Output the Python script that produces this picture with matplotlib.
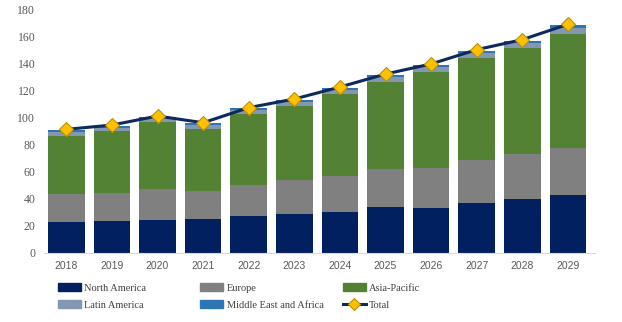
import numpy as np
import matplotlib.pyplot as plt
from matplotlib.patches import Patch
from matplotlib.lines import Line2D

years = ['2018', '2019', '2020', '2021', '2022', '2023', '2024', '2025', '2026', '2027', '2028', '2029']
north_america = [23.0, 23.7, 24.5, 25.2, 27.4, 28.9, 30.4, 34.1, 33.4, 37.1, 40.1, 43.0]
europe = [20.8, 20.8, 23.0, 20.8, 23.0, 25.0, 26.7, 28.2, 29.7, 31.9, 33.3, 34.9]
asia_pacific = [43.0, 45.8, 49.7, 46.0, 52.7, 55.1, 60.9, 64.6, 71.2, 75.7, 78.6, 84.6]
latin_america = [3.0, 2.4, 2.4, 3.0, 2.7, 3.0, 2.7, 3.1, 3.4, 3.4, 3.5, 4.2]
mea = [1.2, 1.3, 1.4, 1.2, 1.5, 1.2, 1.5, 1.5, 1.3, 1.5, 1.5, 2.2]
total = [91.5, 94.7, 101.4, 96.4, 107.6, 114.0, 122.9, 132.5, 140.0, 150.6, 158.0, 169.4]

names = ['North America', 'Europe', 'Asia-Pacific', 'Latin America', 'Middle East and Africa']
colors = ['#002060', '#808080', '#548235', '#8497B0', '#2E75B6']
series = [north_america, europe, asia_pacific, latin_america, mea]

fig = plt.figure(figsize=(6.22, 3.22), dpi=100)
ax = fig.add_axes([0.07, 0.215, 0.887, 0.754])

x = np.arange(len(years))
bottom = np.zeros(len(years))
for vals, c in zip(series, colors):
    ax.bar(x, vals, width=0.8, bottom=bottom, color=c, zorder=2)
    bottom += np.array(vals)

line_kw = dict(color='#0C2A5E', lw=2.2, marker='D', markerfacecolor='#FFC000',
               markeredgecolor='#BF9000', markeredgewidth=0.8)
ax.plot(x, total, markersize=7, zorder=3, **line_kw)

ax.set_xlim(-0.5, 11.6)
ax.set_ylim(0, 180)
ax.set_yticks(range(0, 181, 20))
ax.set_xticks(x)
ax.set_xticklabels(years, fontfamily='Liberation Sans', fontsize=7.5, color='#595959')
for lab in ax.get_yticklabels():
    lab.set_fontfamily('Liberation Serif')
    lab.set_fontsize(8.5)
    lab.set_color('#595959')
ax.tick_params(length=0, pad=6)
for s in ['top', 'right', 'left']:
    ax.spines[s].set_visible(False)
ax.spines['bottom'].set_color('#D9D9D9')

# legend: three columns of equal width, placed by hand
h = [Patch(color=c) for c in colors]
tot = Line2D([], [], markersize=6, **line_kw)
cols = [([h[0], h[3]], ['North America', 'Latin America']),
        ([h[1], h[4]], ['Europe', 'Middle East and Africa']),
        ([h[2], tot], ['Asia-Pacific', 'Total'])]
for i, (hh, ll) in enumerate(cols):
    leg = fig.legend(hh, ll, loc='upper left', bbox_to_anchor=(0.093 + i * 0.229, 0.12),
                     frameon=False, prop={'family': 'Liberation Serif', 'size': 7.5},
                     handlelength=2.2, handleheight=0.7, labelspacing=0.75,
                     handletextpad=0.35, borderpad=0, borderaxespad=0)
    for t in leg.get_texts():
        t.set_color('#404040')

plt.savefig('out.png', dpi=100)
